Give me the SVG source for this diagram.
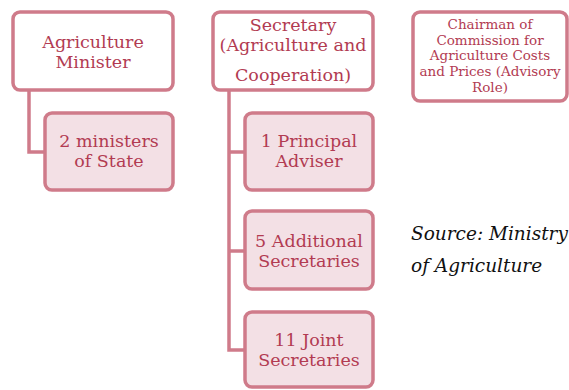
<svg xmlns="http://www.w3.org/2000/svg" width="569" height="390" viewBox="0 0 569 390">
<style>
.top{fill:#ffffff;stroke:#cf7b8a;stroke-width:3.5}
.sub{fill:#f3e0e5;stroke:#cf7b8a;stroke-width:3.5}
.t{font-family:"DejaVu Serif",serif;font-size:17.5px;fill:#b23b52;text-anchor:middle}
.s{font-size:13.5px}
.conn{fill:none;stroke:#cf7b8a;stroke-width:3.5}
.src{font-family:"DejaVu Serif",serif;font-style:italic;font-size:18.5px;fill:#111111}
</style>
<rect width="569" height="390" fill="#ffffff"/>
<g id="connectors">
<path class="conn" d="M29 90 V152 H45"/>
<path class="conn" d="M229 90 V350 H245 M229 152 H245 M229 251 H245"/>
</g>
<g id="agri-minister">
<rect class="top" x="13" y="12" width="160" height="78" rx="7"/>
<text class="t" x="93" y="48">Agriculture</text>
<text class="t" x="93" y="68">Minister</text>
</g>
<g id="ministers-state">
<rect class="sub" x="45" y="113" width="128" height="77" rx="7"/>
<text class="t" x="109" y="147">2 ministers</text>
<text class="t" x="109" y="167">of State</text>
</g>
<g id="secretary">
<rect class="top" x="213" y="12" width="160" height="78" rx="7"/>
<text class="t" x="293" y="31">Secretary</text>
<text class="t" x="293" y="51">(Agriculture and</text>
<text class="t" x="293" y="81">Cooperation)</text>
</g>
<g id="principal-adviser">
<rect class="sub" x="245" y="113" width="128" height="77" rx="7"/>
<text class="t" x="309" y="147">1 Principal</text>
<text class="t" x="309" y="167">Adviser</text>
</g>
<g id="additional-secretaries">
<rect class="sub" x="245" y="211" width="128" height="78" rx="7"/>
<text class="t" x="309" y="247">5 Additional</text>
<text class="t" x="309" y="267">Secretaries</text>
</g>
<g id="joint-secretaries">
<rect class="sub" x="245" y="312" width="128" height="75" rx="7"/>
<text class="t" x="309" y="346">11 Joint</text>
<text class="t" x="309" y="366">Secretaries</text>
</g>
<g id="chairman">
<rect class="top" x="413" y="12" width="154" height="89" rx="7"/>
<text class="t s" x="490" y="29">Chairman of</text>
<text class="t s" x="490" y="45">Commission for</text>
<text class="t s" x="490" y="60">Agriculture Costs</text>
<text class="t s" x="490" y="76">and Prices (Advisory</text>
<text class="t s" x="490" y="92">Role)</text>
</g>
<g id="source">
<text class="src" x="411" y="240">Source: Ministry</text>
<text class="src" x="411" y="272">of Agriculture</text>
</g>
</svg>
